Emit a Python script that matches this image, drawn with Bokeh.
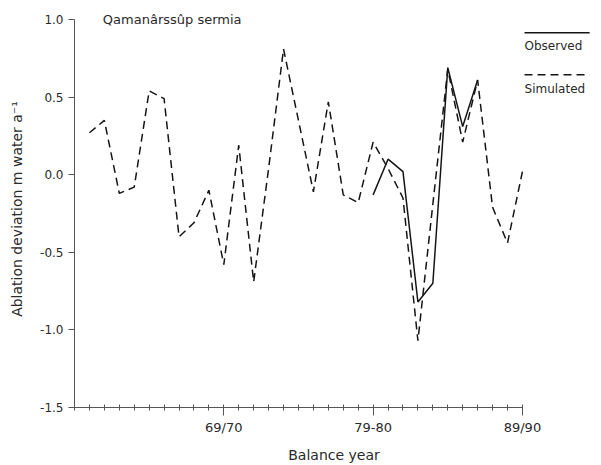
from bokeh.plotting import figure
from bokeh.models import Range1d, FixedTicker, Label
from bokeh.embed import file_html
from bokeh.resources import INLINE

# ---------------- data ----------------
sim_years = list(range(1961, 1991))
sim_values = [0.27, 0.35, -0.12, -0.08, 0.54, 0.49, -0.40, -0.31, -0.10, -0.58,
              0.19, -0.69, 0.04, 0.81, 0.35, -0.11, 0.47, -0.13, -0.18, 0.21,
              0.04, -0.15, -1.07, -0.19, 0.68, 0.21, 0.61, -0.21, -0.44, 0.02]
obs_years = list(range(1980, 1988))
obs_values = [-0.13, 0.10, 0.02, -0.82, -0.70, 0.69, 0.31, 0.61]

x_tick_values = [1970, 1980, 1990]
x_tick_labels = ["69/70", "79-80", "89/90"]
x_minor_ticks = list(range(1960, 1991))
y_tick_values = [-1.5, -1.0, -0.5, 0.0, 0.5, 1.0]
y_tick_labels = ["-1.5", "-1.0", "-0.5", "0.0", "0.5", "1.0"]

title_text = "Qamanârssûp sermia"
obs_name = "Observed"
sim_name = "Simulated"
x_label = "Balance year"
y_label = "Ablation deviation m water a\u207b\u00b9"

# ---------------- style ----------------
FONT = "DejaVu Sans"
TXT = "#2a2a2a"
INK = "#151515"
AX = "#555555"

p = figure(width=601, height=465, output_backend="svg", toolbar_location=None,
           x_range=Range1d(1960, 1994.76), y_range=Range1d(-1.5, 1.058),
           min_border_left=74, min_border_right=8, min_border_top=10,
           min_border_bottom=58)
p.outline_line_color = None
p.xgrid.visible = False
p.ygrid.visible = False
p.background_fill_color = "white"
p.border_fill_color = "white"

# axes
xa = p.xaxis[0]
xa.bounds = (1960, 1990)
xa.ticker = FixedTicker(ticks=x_tick_values, minor_ticks=x_minor_ticks)
xa.major_label_overrides = {float(v): s for v, s in zip(x_tick_values, x_tick_labels)}
xa.axis_line_color = AX
xa.major_tick_line_color = AX
xa.minor_tick_line_color = AX
xa.major_tick_out = 8
xa.major_tick_in = 0
xa.minor_tick_out = 3
xa.minor_tick_in = 3
xa.major_label_standoff = 4
xa.major_label_text_font = FONT
xa.major_label_text_font_size = "13px"
xa.major_label_text_color = TXT
xa.axis_label = x_label
xa.axis_label_text_font = FONT
xa.axis_label_text_font_size = "14px"
xa.axis_label_text_font_style = "normal"
xa.axis_label_text_color = TXT
xa.axis_label_standoff = 9

ya = p.yaxis[0]
ya.bounds = (-1.5, 1.0)
ya.ticker = FixedTicker(ticks=y_tick_values, minor_ticks=[])
ya.major_label_overrides = {float(v): s for v, s in zip(y_tick_values, y_tick_labels)}
ya.axis_line_color = AX
ya.major_tick_line_color = AX
ya.major_tick_out = 6
ya.major_tick_in = 0
ya.minor_tick_line_color = None
ya.major_label_standoff = 5
ya.major_label_text_font = FONT
ya.major_label_text_font_size = "12px"
ya.major_label_text_color = TXT
ya.axis_label = y_label
ya.axis_label_text_font = FONT
ya.axis_label_text_font_size = "14px"
ya.axis_label_text_font_style = "normal"
ya.axis_label_text_color = TXT
ya.axis_label_standoff = 12

# series
p.line(sim_years, sim_values, line_color=INK, line_width=1.5, line_dash="8 5")
p.line(obs_years, obs_values, line_color=INK, line_width=1.5)

# title inside plot
p.add_layout(Label(x=1961.9, y=1.0, text=title_text, text_font=FONT,
                   text_font_size="13px", text_color=TXT, text_baseline="middle"))

# legend (line above label, right of the axis end)
lx0, lx1 = 1990.14, 1994.5
p.line([lx0, lx1], [0.915, 0.915], line_color=INK, line_width=1.5)
p.add_layout(Label(x=lx0, y=0.83, text=obs_name, text_font=FONT,
                   text_font_size="12px", text_color=TXT, text_baseline="middle"))
p.line([lx0, lx1], [0.644, 0.644], line_color=INK, line_width=1.5, line_dash="8 5")
p.add_layout(Label(x=lx0, y=0.55, text=sim_name, text_font=FONT,
                   text_font_size="12px", text_color=TXT, text_baseline="middle"))

open("out.html", "w").write(file_html(p, INLINE))
